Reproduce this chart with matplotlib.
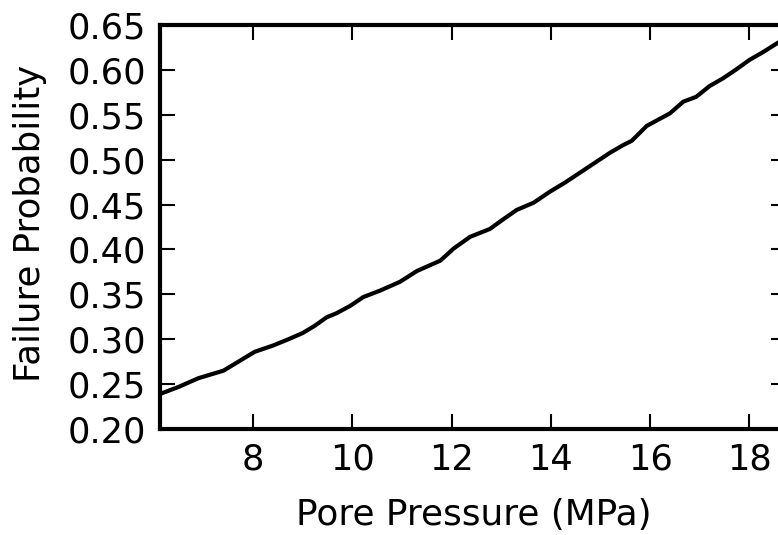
import matplotlib
matplotlib.use("Agg")
import matplotlib.pyplot as plt

pore_pressure = [6.12, 6.5, 6.89, 7.40, 7.7, 8.03, 8.4, 8.71, 9.0, 9.24, 9.48, 9.68,
                 9.95, 10.22, 10.55, 10.96, 11.3, 11.77, 12.04, 12.37, 12.77, 13.0,
                 13.31, 13.65, 13.98, 14.3, 14.6, 14.9, 15.2, 15.45, 15.63, 15.93,
                 16.40, 16.67, 16.93, 17.2, 17.47, 17.74, 18.0, 18.28, 18.57, 18.74]
failure_prob = [0.239, 0.247, 0.2565, 0.265, 0.275, 0.286, 0.293, 0.300, 0.307, 0.315,
                0.3244, 0.329, 0.337, 0.347, 0.354, 0.364, 0.376, 0.3875, 0.401, 0.414,
                0.4228, 0.432, 0.444, 0.452, 0.4643, 0.475, 0.486, 0.497, 0.508, 0.516,
                0.521, 0.5375, 0.5516, 0.5646, 0.570, 0.582, 0.5906, 0.6006, 0.611,
                0.6199, 0.630, 0.635]
x_ticks = [8, 10, 12, 14, 16, 18]
y_ticks = [0.20, 0.25, 0.30, 0.35, 0.40, 0.45, 0.50, 0.55, 0.60, 0.65]

plt.rcParams['font.family'] = ['DejaVu Sans']
fig = plt.figure(figsize=(7.78, 5.35), dpi=100)
W, H = 778, 535
ax = fig.add_axes([160 / W, 1 - 429 / H, (786 - 160) / W, (429 - 25) / H])

ax.plot(pore_pressure, failure_prob, color='black', lw=3)
ax.set_xlim(6.12, 18.74)
ax.set_ylim(0.20, 0.65)
ax.set_xticks(x_ticks)
ax.set_yticks(y_ticks)
ax.set_yticklabels([f"{v:.2f}" for v in y_ticks])

for s in ax.spines.values():
    s.set_linewidth(3)
ax.tick_params(direction='in', top=True, right=True, length=11, width=1.5,
               labelsize=25.3, pad=10)

ax.set_xlabel('Pore Pressure (MPa)', fontsize=25.8)
ax.set_ylabel('Failure Probability', fontsize=25.6)
ax.xaxis.set_label_coords((474 - 160) / 626, (429 - 498) / 404)
ax.yaxis.set_label_coords((47 - 160) / 626, 0.51)

fig.savefig('out.png', dpi=100)
